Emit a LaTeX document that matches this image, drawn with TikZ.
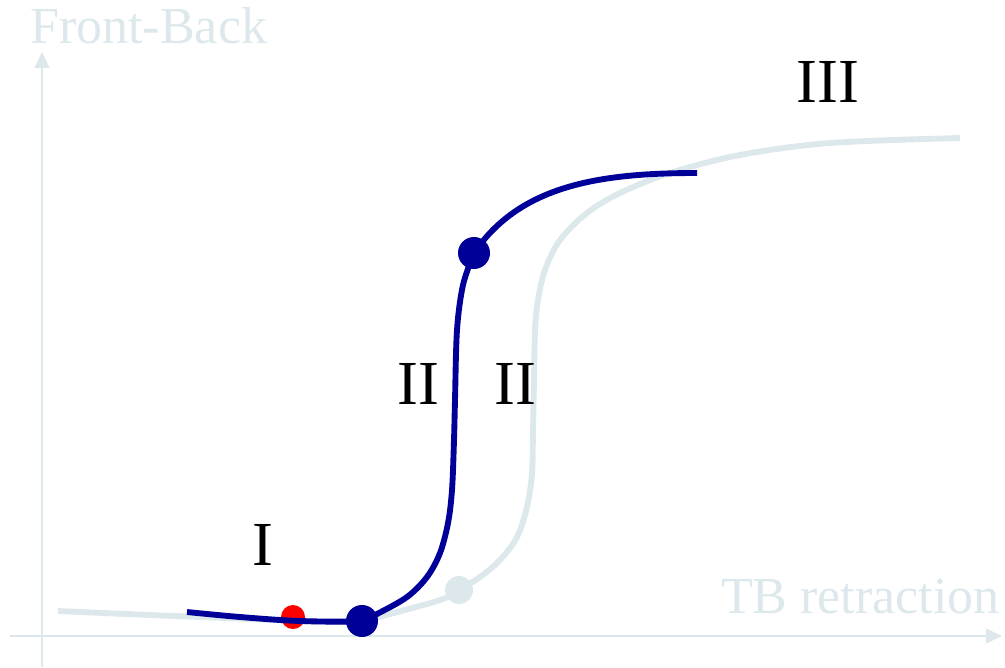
\documentclass[tikz,border=0pt]{standalone}
\usepackage{fontspec}
\setmainfont{Liberation Serif}
\usetikzlibrary{arrows.meta}
\definecolor{axisgray}{RGB}{221,232,236}
\definecolor{curveblue}{RGB}{0,0,153}
\tikzset{
  axis/.style={draw=axisgray, line width=1.9pt, -{Triangle[length=12pt,width=11pt]}},
  axislabel/.style={text=axisgray, inner sep=0pt, font=\fontsize{39pt}{39pt}\selectfont},
  regionlabel/.style={text=black, inner sep=0pt, font=\fontsize{47pt}{47pt}\selectfont},
  graycurve/.style={draw=axisgray, line width=4.4pt, line cap=butt},
  bluecurve/.style={draw=curveblue, line width=4.4pt, line cap=butt},
  dot/.style={circle, inner sep=0pt, minimum size=#1}
}
\begin{document}
\begin{tikzpicture}[x=0.75pt, y=-0.75pt]
\useasboundingbox (0,0) rectangle (1005,667);
% axes
\coordinate (ystart) at (42,667);
\coordinate (ytip) at (42,52);
\coordinate (xstart) at (10,636);
\coordinate (xtip) at (1002,636);
\draw[axis] (ystart) -- (ytip);
\draw[axis] (xstart) -- (xtip);
\node[axislabel, anchor=base west] (ylab) at (30,44) {Front-Back};
\node[axislabel, anchor=base east] (xlab) at (1000,613) {TB retraction};
% gray curve
\draw[graycurve] plot[smooth, tension=0.55] coordinates {
 (58,611) (150,615) (250,619) (330,622) (365,620) (390,614) (440,600) (459,590)
 (480,577) (500,560) (517,537) (527,507) (532,473) (533,430) (534,380) (535,330)
 (538,300) (545,270) (560,240) (587,213) (620,193) (670,173) (740,155) (830,143) (960,138)};
\node[dot=21pt, fill=axisgray] (gdot) at (459,590) {};
% red dot
\node[dot=18pt, fill=red] (rdot) at (293,617) {};
% blue curve
\coordinate (bend) at (697,173);
\draw[bluecurve] plot[smooth, tension=0.55] coordinates {
 (187,612) (240,617) (300,621) (362,621) (377,614) (407,597) (427,577) (440,553)
 (448,523) (452,490) (454,440) (455,400) (457,330) (463,285) (474,253)};
\draw[bluecurve] (474,253) .. controls (520,185) and (600,173) .. (bend);
\node[dot=24pt, fill=curveblue] (bdot1) at (362,621) {};
\node[dot=24pt, fill=curveblue] (bdot2) at (474,253) {};
% region labels
\node[regionlabel, anchor=base] (l1) at (263,565) {I};
\node[regionlabel, anchor=base] (l2a) at (418,404) {II};
\node[regionlabel, anchor=base] (l2b) at (515,404) {II};
\node[regionlabel, anchor=base] (l3) at (828,102) {III};
\end{tikzpicture}
\end{document}
